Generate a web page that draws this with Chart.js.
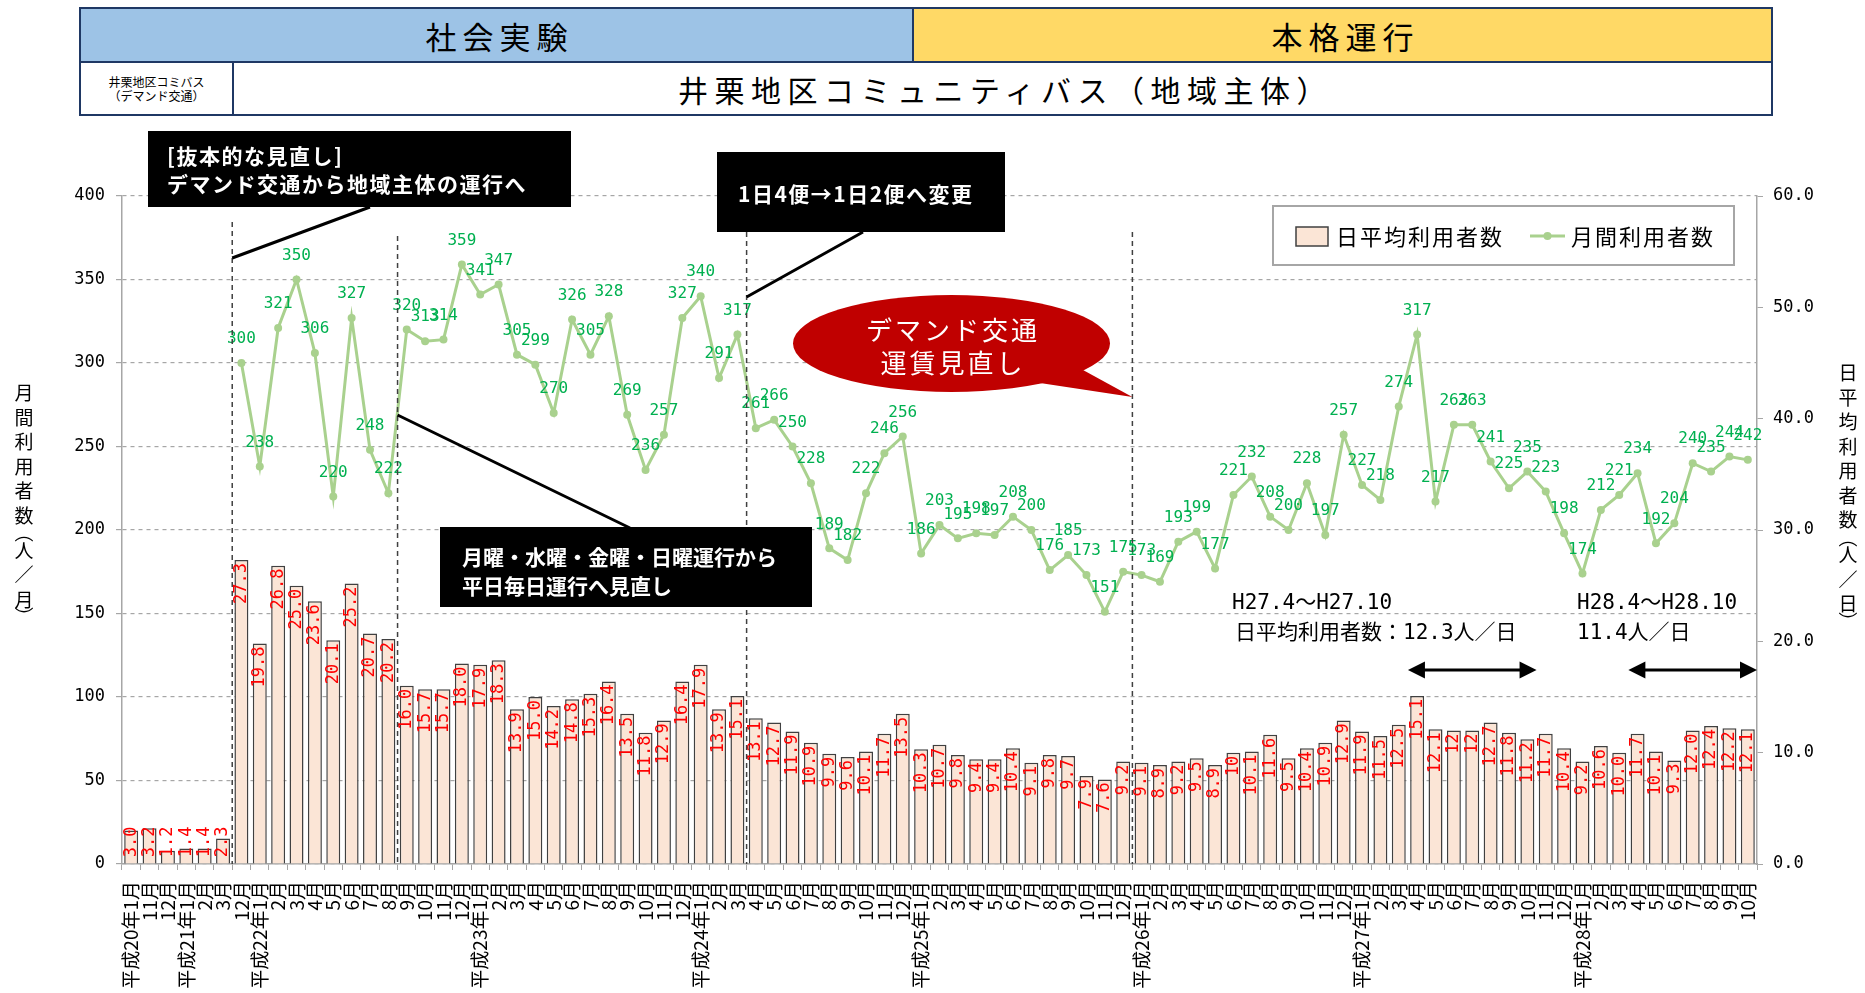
<!DOCTYPE html>
<html lang="ja">
<head>
<meta charset="UTF-8">
<title>井栗地区コミュニティバス 利用者数の推移</title>
<script src="https://cdn.jsdelivr.net/npm/chart.js"></script>
<style>
  body {
    margin: 0;
    background: #fff;
    overflow: hidden;
    font-family: "Noto Sans CJK JP", sans-serif;
  }

  #grafico {
    position: absolute;
    left: 0;
    top: 0;
  }

  .cabecalho {
    position: absolute;
    left: 79px;
    top: 7px;
    display: grid;
    grid-template-columns: 151px 678px 857px;
    grid-template-rows: 52px 51px;
    gap: 2px;
    padding: 2px;
    background: #1f3864;
  }

  .cabecalho div {
    display: flex;
    align-items: center;
    justify-content: center;
    background: #fff;
    color: #000;
  }

  .fase1 {
    grid-column: 1 / 3;
    background: #9dc3e6 !important;
    font-size: 31px;
    letter-spacing: 6px;
    padding-left: 6px;
  }

  .fase2 {
    background: #ffd966 !important;
    font-size: 31px;
    letter-spacing: 6px;
    padding-left: 6px;
  }

  .sub {
    flex-direction: column;
    font-size: 12px;
    line-height: 14px;
  }

  .titulo {
    grid-column: 2 / 4;
    font-size: 30px;
    letter-spacing: 6.5px;
    padding-left: 6px;
  }
</style>
</head>
<body>
  <canvas id="grafico" width="1865" height="993"></canvas>

  <div class="cabecalho">
    <div class="fase1">社会実験</div>
    <div class="fase2">本格運行</div>
    <div class="sub"><span>井栗地区コミバス</span><span>（デマンド交通）</span></div>
    <div class="titulo">井栗地区コミュニティバス（地域主体）</div>
  </div>

<script>
  // 月ラベル
  const monthLabels = [
    '平成20年1月', '11月', '12月',
    '平成21年1月', '2月', '3月', '12月',
    '平成22年1月', '2月', '3月', '4月', '5月', '6月', '7月', '8月', '9月', '10月', '11月', '12月',
    '平成23年1月', '2月', '3月', '4月', '5月', '6月', '7月', '8月', '9月', '10月', '11月', '12月',
    '平成24年1月', '2月', '3月', '4月', '5月', '6月', '7月', '8月', '9月', '10月', '11月', '12月',
    '平成25年1月', '2月', '3月', '4月', '5月', '6月', '7月', '8月', '9月', '10月', '11月', '12月',
    '平成26年1月', '2月', '3月', '4月', '5月', '6月', '7月', '8月', '9月', '10月', '11月', '12月',
    '平成27年1月', '2月', '3月', '4月', '5月', '6月', '7月', '8月', '9月', '10月', '11月', '12月',
    '平成28年1月', '2月', '3月', '4月', '5月', '6月', '7月', '8月', '9月', '10月'
  ];

  // 日平均利用者数（人/日）
  const dailyAverage = [
    3.0, 3.2, 1.2,
    1.4, 1.4, 2.3, 27.3,
    19.8, 26.8, 25.0, 23.6, 20.1, 25.2, 20.7, 20.2, 16.0, 15.7, 15.7, 18.0,
    17.9, 18.3, 13.9, 15.0, 14.2, 14.8, 15.3, 16.4, 13.5, 11.8, 12.9, 16.4,
    17.9, 13.9, 15.1, 13.1, 12.7, 11.9, 10.9, 9.9, 9.6, 10.1, 11.7, 13.5,
    10.3, 10.7, 9.8, 9.4, 9.4, 10.4, 9.1, 9.8, 9.7, 7.9, 7.6, 9.2,
    9.1, 8.9, 9.2, 9.5, 8.9, 10.0, 10.1, 11.6, 9.5, 10.4, 10.9, 12.9,
    11.9, 11.5, 12.5, 15.1, 12.1, 12.0, 12.0, 12.7, 11.8, 11.2, 11.7, 10.4,
    9.2, 10.6, 10.0, 11.7, 10.1, 9.3, 12.0, 12.4, 12.2, 12.1
  ];

  // ラベルが整数表示になっている月
  const wholeNumberLabels = [60, 72, 73];

  // 月間利用者数（人/月）
  const monthlyUsers = [
    null, null, null,
    null, null, null, 300,
    238, 321, 350, 306, 220, 327, 248, 222, 320, 313, 314, 359,
    341, 347, 305, 299, 270, 326, 305, 328, 269, 236, 257, 327,
    340, 291, 317, 261, 266, 250, 228, 189, 182, 222, 246, 256,
    186, 203, 195, 198, 197, 208, 200, 176, 185, 173, 151, 175,
    173, 169, 193, 199, 177, 221, 232, 208, 200, 228, 197, 257,
    227, 218, 274, 317, 217, 263, 263, 241, 225, 235, 223, 198,
    174, 212, 221, 234, 192, 204, 240, 235, 244, 242
  ];

  const leftTicks = [0, 50, 100, 150, 200, 250, 300, 350, 400];
  const rightTicks = [0, 10, 20, 30, 40, 50, 60];

  // 区切り線（この月の後ろ）
  const dividerAfter = [5, 14, 33, 54];
  // 矢印の範囲（H27.4〜H27.10, H28.4〜H28.10）
  const arrowSpans = [[70, 76], [82, 88]];

  const JP = '"Noto Sans CJK JP"';
  const MONO = '"DejaVu Sans Mono"';
  Chart.defaults.font.family = 'Noto Sans CJK JP';

  function verticalText(ctx, text, cx, startY) {
    let y = startY;
    let prev = null;
    for (const ch of text) {
      const br = ch === '︵' || ch === '︶';
      if (prev !== null) y += (br || prev) ? 17.5 : 24.5;
      ctx.fillText(ch, cx, y);
      prev = br;
    }
  }

  function blackBox(ctx, x, y, w, h, lines, tx, ys, spacing) {
    ctx.fillStyle = '#000';
    ctx.fillRect(x, y, w, h);
    ctx.fillStyle = '#fff';
    ctx.font = 'bold 21px ' + JP;
    ctx.letterSpacing = spacing + 'px';
    ctx.textAlign = 'left';
    ctx.textBaseline = 'middle';
    lines.forEach((t, k) => ctx.fillText(t, tx, ys[k]));
    ctx.letterSpacing = '0px';
  }

  function doubleArrow(ctx, x1, x2, y) {
    const head = 17, half = 8.5;
    ctx.strokeStyle = '#000';
    ctx.fillStyle = '#000';
    ctx.lineWidth = 3;
    ctx.beginPath();
    ctx.moveTo(x1 + head - 2, y);
    ctx.lineTo(x2 - head + 2, y);
    ctx.stroke();
    ctx.beginPath();
    ctx.moveTo(x1, y);
    ctx.lineTo(x1 + head, y - half);
    ctx.lineTo(x1 + head, y + half);
    ctx.closePath();
    ctx.fill();
    ctx.beginPath();
    ctx.moveTo(x2, y);
    ctx.lineTo(x2 - head, y - half);
    ctx.lineTo(x2 - head, y + half);
    ctx.closePath();
    ctx.fill();
  }

  const notesPlugin = {
    id: 'notes',
    afterDatasetsDraw(chart) {
      const { ctx, chartArea } = chart;
      const barMeta = chart.getDatasetMeta(1);
      const lineMeta = chart.getDatasetMeta(0);

      // 棒のラベル（赤・縦書き）
      ctx.save();
      ctx.beginPath();
      ctx.rect(chartArea.left, chartArea.top, chartArea.right - chartArea.left, chartArea.bottom - chartArea.top);
      ctx.clip();
      ctx.font = '17px ' + MONO;
      ctx.fillStyle = '#ff0000';
      ctx.textAlign = 'right';
      ctx.textBaseline = 'middle';
      barMeta.data.forEach((bar, i) => {
        const v = dailyAverage[i];
        const text = wholeNumberLabels.includes(i) ? String(Math.round(v)) : v.toFixed(1);
        const topY = Math.min(bar.y + 3, bar.base - 37);
        ctx.save();
        ctx.translate(bar.x, topY);
        ctx.rotate(-Math.PI / 2);
        ctx.fillText(text, 0, 0);
        ctx.restore();
      });
      ctx.restore();

      // 折れ線のラベル（緑）
      ctx.save();
      ctx.font = '16px ' + MONO;
      ctx.fillStyle = '#00b050';
      ctx.textAlign = 'center';
      ctx.textBaseline = 'middle';
      lineMeta.data.forEach((pt, i) => {
        const v = monthlyUsers[i];
        if (v === null) return;
        ctx.fillText(String(v), pt.x, pt.y - 24);
      });
      ctx.restore();
    },

    afterDraw(chart) {
      const { ctx, chartArea } = chart;
      const x = chart.scales.x;
      const step = x.getPixelForValue(1) - x.getPixelForValue(0);
      const divX = dividerAfter.map(i => x.getPixelForValue(i) + step / 2);
      const divTop = [222, 236, 232, 232];

      ctx.save();
      // 区切りの破線
      ctx.strokeStyle = '#404040';
      ctx.lineWidth = 1.5;
      ctx.setLineDash([5, 4]);
      divX.forEach((dx, k) => {
        ctx.beginPath();
        ctx.moveTo(dx, divTop[k]);
        ctx.lineTo(dx, chartArea.bottom);
        ctx.stroke();
      });
      ctx.setLineDash([]);

      // 引き出し線
      ctx.strokeStyle = '#000';
      ctx.lineWidth = 3;
      ctx.beginPath();
      ctx.moveTo(370, 207); ctx.lineTo(divX[0], 258);
      ctx.moveTo(divX[1], 415); ctx.lineTo(630, 528);
      ctx.moveTo(863, 232); ctx.lineTo(divX[2], 297);
      ctx.stroke();

      // 黒いボックス
      blackBox(ctx, 148, 131, 423, 76, ['[抜本的な見直し]', 'デマンド交通から地域主体の運行へ'], 167, [156, 184], 1.5);
      blackBox(ctx, 717, 152, 288, 80, ['1日4便→1日2便へ変更'], 738, [194], 1.5);
      blackBox(ctx, 440, 527, 372, 80, ['月曜・水曜・金曜・日曜運行から', '平日毎日運行へ見直し'], 462, [557, 586], 0);

      // 赤い吹き出し
      ctx.fillStyle = '#c00000';
      ctx.beginPath();
      ctx.ellipse(951.5, 343.5, 158.5, 48.5, 0, 0, Math.PI * 2);
      ctx.fill();
      ctx.beginPath();
      ctx.moveTo(1083, 370);
      ctx.lineTo(divX[3], 397);
      ctx.lineTo(1040, 383);
      ctx.closePath();
      ctx.fill();
      ctx.fillStyle = '#fff';
      ctx.font = '26px ' + JP;
      ctx.letterSpacing = '3px';
      ctx.textAlign = 'center';
      ctx.textBaseline = 'middle';
      ctx.fillText('デマンド交通', 953, 330);
      ctx.fillText('運賃見直し', 953, 363);
      ctx.letterSpacing = '0px';

      // 期間の注記と矢印
      ctx.fillStyle = '#000';
      ctx.font = '21px ' + MONO + ', ' + JP;
      ctx.textAlign = 'left';
      ctx.fillText('H27.4～H27.10', 1232, 604);
      ctx.fillText('日平均利用者数：12.3人／日', 1235, 634);
      ctx.fillText('H28.4～H28.10', 1577, 604);
      ctx.fillText('11.4人／日', 1577, 634);
      arrowSpans.forEach(([a, b]) => {
        doubleArrow(ctx, x.getPixelForValue(a) - step / 2, x.getPixelForValue(b) + step / 2, 670);
      });

      // 凡例
      ctx.fillStyle = '#fff';
      ctx.fillRect(1273, 206, 461, 59);
      ctx.strokeStyle = '#a6a6a6';
      ctx.lineWidth = 2;
      ctx.strokeRect(1273, 206, 461, 59);
      ctx.fillStyle = '#fbe5d6';
      ctx.fillRect(1296, 227, 32, 19);
      ctx.strokeStyle = '#404040';
      ctx.lineWidth = 1.5;
      ctx.strokeRect(1296, 227, 32, 19);
      ctx.strokeStyle = '#a9d18e';
      ctx.lineWidth = 3;
      ctx.beginPath();
      ctx.moveTo(1530, 236);
      ctx.lineTo(1565, 236);
      ctx.stroke();
      ctx.fillStyle = '#a9d18e';
      ctx.beginPath();
      ctx.arc(1547.5, 236, 4, 0, Math.PI * 2);
      ctx.fill();
      ctx.fillStyle = '#000';
      ctx.font = '22px ' + JP;
      ctx.letterSpacing = '2px';
      ctx.fillText('日平均利用者数', 1336, 237);
      ctx.fillText('月間利用者数', 1571, 237);
      ctx.letterSpacing = '0px';

      // 軸タイトル（縦書き）
      ctx.font = '19px ' + JP;
      ctx.textAlign = 'center';
      verticalText(ctx, '月間利用者数︵人／月︶', 24, 393);
      verticalText(ctx, '日平均利用者数︵人／日︶', 1848, 373);
      ctx.restore();
    }
  };

  const ctx = document.getElementById('grafico').getContext('2d');
  new Chart(ctx, {
    data: {
      labels: monthLabels,
      datasets: [
        {
          type: 'line',
          label: '月間利用者数',
          data: monthlyUsers,
          yAxisID: 'yL',
          borderColor: '#a9d18e',
          backgroundColor: '#a9d18e',
          borderWidth: 3,
          pointRadius: 4,
          pointHoverRadius: 4,
          pointBorderWidth: 0,
          order: 0
        },
        {
          type: 'bar',
          label: '日平均利用者数',
          data: dailyAverage,
          yAxisID: 'yR',
          backgroundColor: '#fbe5d6',
          borderColor: '#404040',
          borderWidth: 1.5,
          categoryPercentage: 0.8,
          barPercentage: 0.95,
          order: 1
        }
      ]
    },
    options: {
      responsive: false,
      animation: false,
      layout: { padding: { top: 196, left: 0, right: 0, bottom: 0 } },
      plugins: {
        legend: { display: false },
        tooltip: { enabled: false }
      },
      scales: {
        x: {
          grid: { offset: true, drawOnChartArea: false, tickLength: 6, color: '#a6a6a6' },
          border: { color: '#a6a6a6', width: 1.5 },
          ticks: {
            autoSkip: false,
            maxRotation: 90,
            minRotation: 90,
            padding: 11,
            color: '#000',
            font: { family: 'Noto Sans CJK JP', size: 19 }
          },
          afterFit(s) { s.height = 129; }
        },
        yL: {
          position: 'left',
          min: 0,
          max: 400,
          afterBuildTicks(s) { s.ticks = leftTicks.map(v => ({ value: v })); },
          grid: { color: '#a6a6a6', tickLength: 6, lineWidth: 1.2 },
          border: { color: '#a6a6a6', width: 1.5, dash: [4, 4] },
          ticks: {
            padding: 11,
            color: '#000',
            font: { family: 'DejaVu Sans Mono', size: 17 }
          },
          afterFit(s) { s.width = 122; }
        },
        yR: {
          position: 'right',
          min: 0,
          max: 60,
          afterBuildTicks(s) { s.ticks = rightTicks.map(v => ({ value: v })); },
          grid: { drawOnChartArea: false, tickLength: 6, color: '#a6a6a6' },
          border: { color: '#a6a6a6', width: 1.5 },
          ticks: {
            padding: 10,
            color: '#000',
            font: { family: 'DejaVu Sans Mono', size: 17 },
            callback: v => v.toFixed(1)
          },
          afterFit(s) { s.width = 108; }
        }
      }
    },
    plugins: [notesPlugin]
  });
</script>
</body>
</html>
